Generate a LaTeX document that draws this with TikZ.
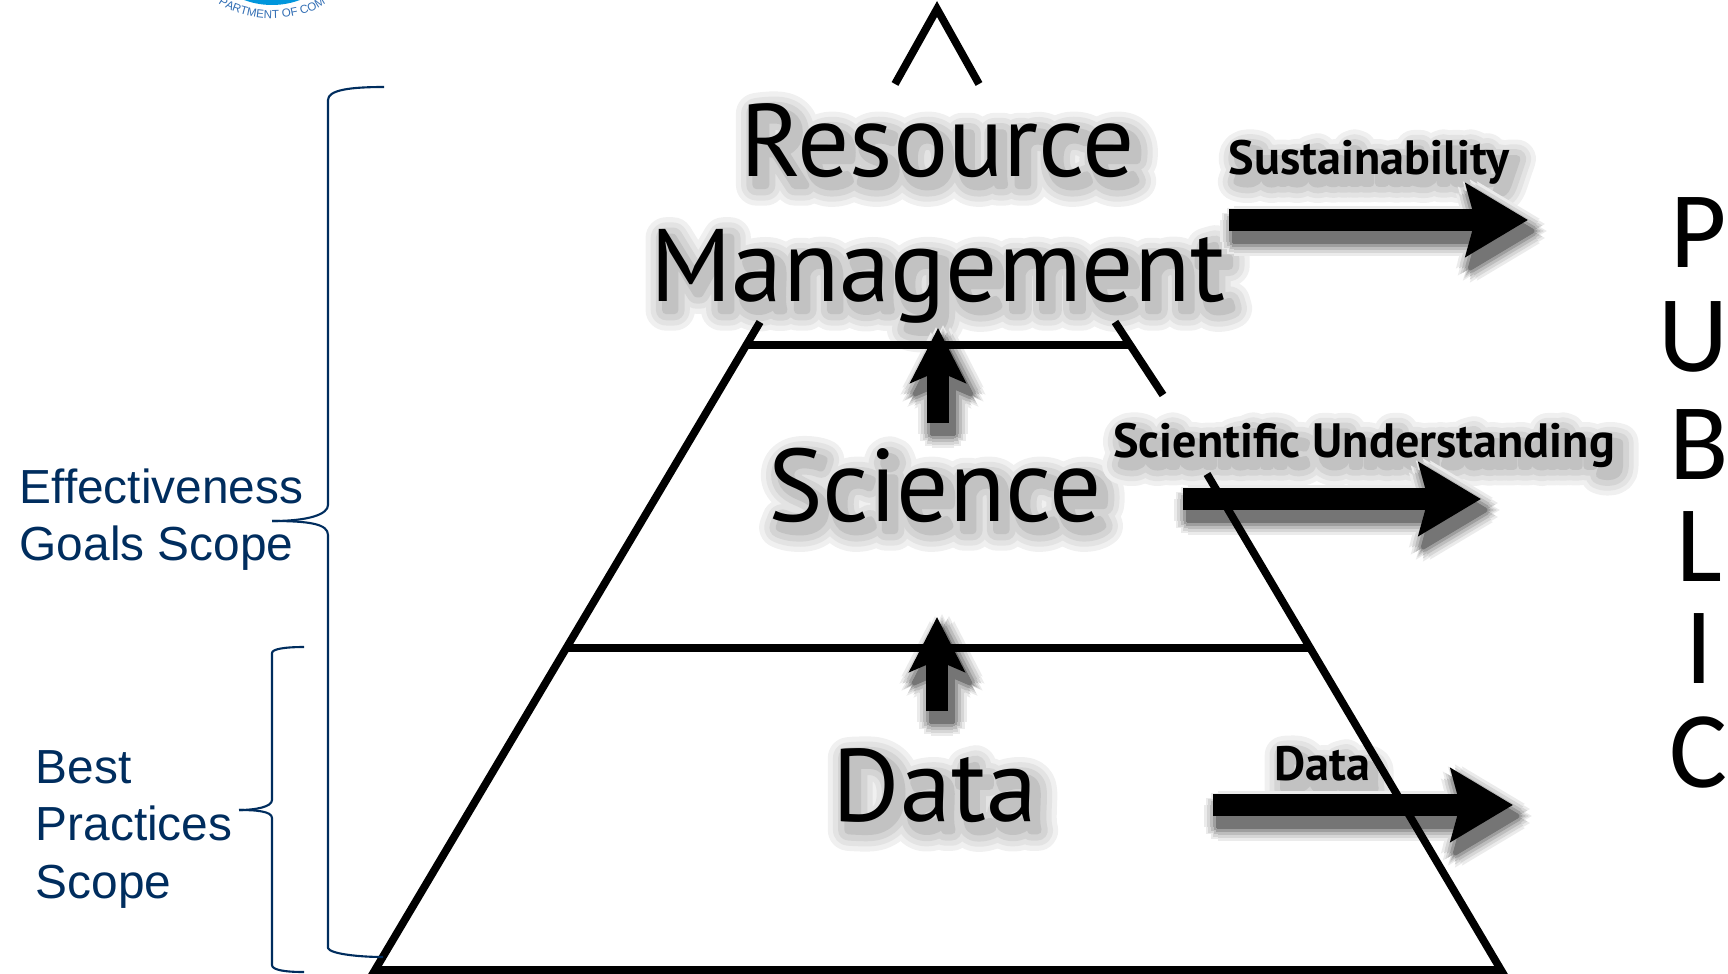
\documentclass[tikz,border=0pt]{standalone}
\usepackage{fontspec}
\usepackage{tikz}
\usetikzlibrary{arrows.meta,decorations.text}
\setmainfont{Liberation Sans}
\newfontfamily\labelfont{PT Sans}
\newfontfamily\publicfont{Carlito}
\newfontfamily\bigglowa[FakeBold=40]{PT Sans}
\newfontfamily\bigglowb[FakeBold=30]{PT Sans}
\newfontfamily\bigglowc[FakeBold=20]{PT Sans}
\newfontfamily\bigglowd[FakeBold=8]{PT Sans}
\newfontfamily\smallglowa[FakeBold=80]{PT Sans Bold}
\newfontfamily\smallglowb[FakeBold=60]{PT Sans Bold}
\newfontfamily\smallglowc[FakeBold=40]{PT Sans Bold}
\newfontfamily\smallglowd[FakeBold=16]{PT Sans Bold}
\definecolor{scopeblue}{RGB}{0,45,94}
\definecolor{sealblue}{RGB}{0,150,220}
\definecolor{sealtext}{RGB}{50,110,180}
\tikzset{
  tier/.style={line width=2.2pt,black,line join=miter},
  scopebrace/.style={line width=0.6pt,scopeblue},
  scopetext/.style={anchor=base west,inner sep=0pt,text=scopeblue,font=\fontsize{13.6}{16}\selectfont},
  bigtext/.style={anchor=base,inner sep=0pt,font=\labelfont\fontsize{29.3}{34}\selectfont},
  smalltext/.style={anchor=base,inner sep=0pt,font=\labelfont\bfseries\fontsize{13.7}{15}\selectfont},
  publictext/.style={anchor=base,inner sep=0pt,font=\publicfont\fontsize{31}{36}\selectfont},
  flowarrow/.style={line width=6.4pt,-{Stealth[length=17.6pt,width=20.5pt,inset=2.6pt]}},
  uparrow/.style={line width=6.2pt,-{Stealth[length=15.5pt,width=15.6pt,inset=3.2pt]}},
}
\newcommand{\softtext}[4]{
  \foreach \l/\g in {a/6,b/11,c/17,d/24}{
    \node[anchor=base,inner sep=0pt,text=black!\g,font=\csname #2glow\l\endcsname\fontsize{#3}{34}\selectfont] (#1-\l) at ([shift={(7,9)}]#1pos) {#4};
  }
}
\newcommand{\softarrow}[3]{
  \foreach \r/\g in {14/8,11/16,8/26,5/38,2/54}{
    \foreach \a in {0,30,...,330}{
      \draw[#3,black!\g] ([shift={(5,11)},shift={(\a:\r)}]#1) -- ([shift={(5,11)},shift={(\a:\r)}]#2);
    }
  }
}
\begin{document}
\begin{tikzpicture}[x=0.01cm,y=-0.01cm,line join=round]
\useasboundingbox (0,0) rectangle (1728,973);

\coordinate (sealc) at (272,-75);
\fill[sealblue] (sealc) circle (80);
\path[decorate,decoration={text along path,text align=center,text={|\fontsize{3.3}{4}\selectfont\color{sealtext}|PARTMENT OF COM}}]
  (212,-2) .. controls (240,25) and (305,25) .. (332,-2);

\coordinate (apex) at (937,9);
\coordinate (apexl) at (895,84);
\coordinate (apexr) at (979,84);
\coordinate (topl) at (760,322);
\coordinate (topr) at (1115,322);
\coordinate (gapr) at (1163,395);
\coordinate (lowr) at (1207,474);
\coordinate (basel) at (375,970);
\coordinate (baser) at (1501,970);
\coordinate (t1l) at (747,345);
\coordinate (t1r) at (1128,345);
\coordinate (t2l) at (567,648);
\coordinate (t2r) at (1310,648);

\coordinate (resourcepos) at (938,176);
\coordinate (managementpos) at (938,301);
\coordinate (sciencepos) at (935,521);
\coordinate (datapos) at (935,821);
\coordinate (sustainpos) at (1369,174);
\coordinate (understandpos) at (1364,457);
\coordinate (dataflowpos) at (1322,780);

\softtext{resource}{big}{29.3}{Resource}
\softtext{management}{big}{29.3}{Management}
\softtext{science}{big}{29.3}{Science}
\softtext{data}{big}{29.3}{Data}
\softtext{sustain}{small}{13.7}{Sustainability}
\softtext{understand}{small}{13.7}{Scientific Understanding}
\softtext{dataflow}{small}{13.7}{Data}

\coordinate (up1a) at (938,423);
\coordinate (up1b) at (938,328);
\coordinate (up2a) at (937,711);
\coordinate (up2b) at (937,617);
\coordinate (sus1) at (1229,220);
\coordinate (sus2) at (1528,220);
\coordinate (sci1) at (1183,499);
\coordinate (sci2) at (1481,499);
\coordinate (dat1) at (1213,805);
\coordinate (dat2) at (1513,805);

\softarrow{up1a}{up1b}{uparrow}
\softarrow{up2a}{up2b}{uparrow}
\softarrow{sus1}{sus2}{flowarrow}
\softarrow{sci1}{sci2}{flowarrow}
\softarrow{dat1}{dat2}{flowarrow}

\draw[tier] (apexl) -- (apex) -- (apexr);
\draw[tier] (topl) -- (basel) -- (baser) -- (lowr);
\draw[tier] (topr) -- (gapr);
\draw[tier] (t1l) -- (t1r);
\draw[tier] (t2l) -- (t2r);

\node[bigtext] (resource) at (resourcepos) {Resource};
\node[bigtext] (management) at (managementpos) {Management};
\node[bigtext] (science) at (sciencepos) {Science};
\node[bigtext] (data) at (datapos) {Data};
\node[smalltext] (sustain) at (sustainpos) {Sustainability};
\node[smalltext] (understand) at (understandpos) {Scientific Understanding};
\node[smalltext] (dataflow) at (dataflowpos) {Data};

\draw[uparrow] (up1a) -- (up1b);
\draw[uparrow] (up2a) -- (up2b);
\draw[flowarrow] (sus1) -- (sus2);
\draw[flowarrow] (sci1) -- (sci2);
\draw[flowarrow] (dat1) -- (dat2);

\node[scopetext] (effect1) at (19,503) {Effectiveness};
\node[scopetext] (effect2) at (19,560) {Goals Scope};
\node[scopetext] (best1) at (35,783) {Best};
\node[scopetext] (best2) at (35,840) {Practices};
\node[scopetext] (best3) at (35,898) {Scope};

\coordinate (b1top) at (384,87);
\coordinate (b1tip) at (272,521);
\coordinate (b1bot) at (383,957);
\coordinate (b2top) at (304,647);
\coordinate (b2tip) at (239,810);
\coordinate (b2bot) at (304,972);
\draw[scopebrace] (b1top) .. controls (350,87) and (328,90) .. (328,100) -- (328,505)
  .. controls (328,514) and (310,521) .. (b1tip);
\draw[scopebrace] (b1tip) .. controls (310,521) and (328,524) .. (328,535) -- (328,948)
  .. controls (330,954) and (360,957) .. (b1bot);
\draw[scopebrace] (b2top) .. controls (285,647) and (272,649) .. (272,653) -- (272,800)
  .. controls (272,807) and (255,810) .. (b2tip);
\draw[scopebrace] (b2tip) .. controls (255,810) and (272,811) .. (272,818) -- (272,965)
  .. controls (272,970) and (285,972) .. (b2bot);

\node[publictext] (pubp) at (1699,268) {P};
\node[publictext] (pubu) at (1693,371) {U};
\node[publictext] (pubb) at (1699,479) {B};
\node[publictext] (publ) at (1699,581) {L};
\node[publictext] (pubi) at (1699,683) {I};
\node[publictext] (pubc) at (1699,787) {C};
\end{tikzpicture}
\end{document}
